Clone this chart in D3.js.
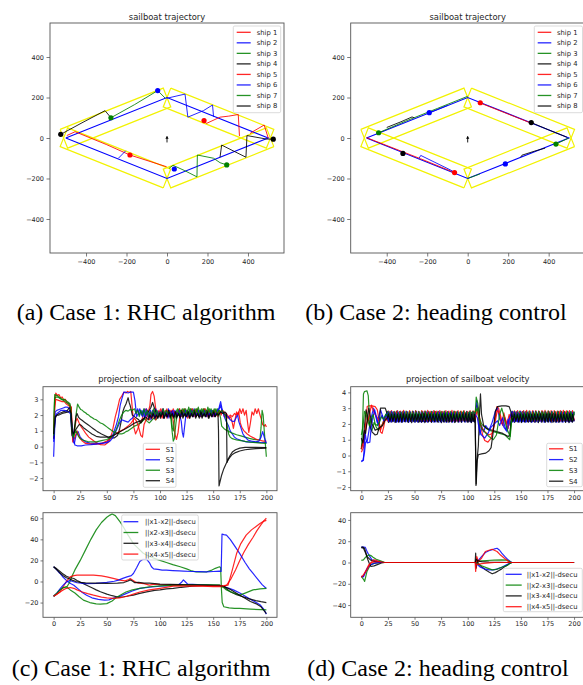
<!DOCTYPE html>
<html>
<head>
<meta charset="utf-8">
<script src="https://cdn.jsdelivr.net/npm/d3@7"></script>
<style>
  body { margin: 0; background: #fff; }
  svg { display: block; }
</style>
</head>
<body>
<div id="chart"></div>
<script>
// ---------- trajectory data (panels a, b) ----------
const routeX = [-500, 0, 500, 0, -500];
const routeY = [0, 200, 0, -200, 0];
const corridorHalf = 50;
const corridorOverrun = [10, 0, 10, 0];
const windFrom = [0, -22];
const windTo = [0, 8];

const shipNames = ["ship 1", "ship 2", "ship 3", "ship 4", "ship 5", "ship 6", "ship 7", "ship 8"];
const shipColors = ["#ff0000", "#0000ff", "#008000", "#000000", "#ff0000", "#0000ff", "#008000", "#000000"];

// case 1 (RHC): trails per ship, each a list of segments, and last positions
const trailsA = [
  [[[183, 86], [195, 72], [262, 103], [305, 108], [352, 116], [358, 10]], [[410, 22], [430, 35], [480, 64], [500, 0]]],
  [[[-2, 196], [89, 217], [103, 103], [180, 135], [225, 163], [230, 105]]],
  [[[-277, 100], [-160, 165], [-46, 234], [-8, 196]]],
  [[[-525, 18], [-420, 75], [-306, 135], [-281, 105]]],
  [[[-495, 12], [-454, 31], [-300, -32], [-183, -84], [-2, -142]]],
  [[[-240, -100], [-204, -63]]],
  [[[10, -150], [30, -135], [85, -160], [148, -192], [150, -84], [230, -100], [262, -122], [295, -133]]],
  [[[262, -95], [270, -35], [390, -95], [395, 12], [490, -5], [525, -6]]]
];
const dotsA = [[183, 86], [-46, 234], [-277, 100], [-525, 18], [-183, -84], [36, -153], [295, -133], [525, -6]];

// case 2 (heading control)
const trailsB = [
  [[[64, 172], [312, 74]]],
  [[[-190, 125], [-100, 161]]],
  [[[-440, 26], [-300, 86], [-150, 146], [0, 206]]],
  [[[-400, 52], [-330, 80], [-275, 104], [-265, 100]]],
  [[[-500, 2], [-234, -102], [-65, -171]]],
  [[[-240, -100], [-232, -86], [-85, -158], [-60, -172]]],
  [[[0, -200], [60, -178]], [[436, -30], [500, 0]]],
  [[[314, 76], [400, 40], [490, 4]], [[262, -95], [268, -85], [330, -65], [383, -50]]]
];
const dotsB = [[62, 174], [-190, 125], [-440, 26], [-320, -76], [-65, -171], [186, -128], [436, -30], [314, 76]];

const trajTicks = [-400, -200, 0, 200, 400];

// ---------- velocity data, case 1 (panel c, top) ----------
const velLabels = ["S1", "S2", "S3", "S4"];
const velColors = ["#ff0000", "#0000ff", "#008000", "#000000"];
const timeTicks = [0, 25, 50, 75, 100, 125, 150, 175, 200];

const cR1 = [[0,0.5],[1,2.6],[2,3.4],[3.5,3.25],[5,3.3],[6.5,3.1],[8,3.15],[9.5,2.95],[11,3.0],[12.5,2.8],[14,2.75],[15.5,2.6],[16.5,2.5],[17.5,0.7],[19,0.9],[21,1.6],[22,1.8],[24,1.5],[26,1.25],[28,1.05],[30,0.85],[33,0.6],[36,0.45],[40,0.25],[44,0.12],[48,0.1],[52,0.3],[55,0.9],[58,1.9],[60,2.4],[62,3.0],[64,3.2],[66,3.45],[68,3.4],[69.5,3.5],[71,3.45],[72.5,3.5],[74,2.4],[75.5,1.2],[77,0.8],[79,1.1],[81,1.5],[83,1.7],[85,2.2],[87,2.4],[89,2.2],[90.5,2.6],[91.5,3.3],[93,3.5],[94.5,3.2],[96,2.4],[97.5,2.0],[99,2.3],[100.5,1.9],[102,2.4],[103.5,2.0],[105,2.3],[106.5,1.8],[108,2.2],[109.5,1.9],[111,2.3],[112.5,1.6],[114,0.8],[115.5,0.45],[117,0.9],[118.5,1.8],[120,2.3],[121.5,2.0],[123,2.4],[124.5,1.9],[126,2.3],[127.5,2.0],[129,2.4],[130.5,1.9],[132,2.3],[133.5,2.1],[135,2.4],[136.5,1.9],[138,2.3],[139.5,2.0],[141,2.4],[142.5,2.0],[144,2.3],[145.5,1.9],[147,2.2],[148.5,2.0],[150,2.3],[151.5,2.0],[153,2.2],[154.5,1.9],[156,2.3],[157.5,2.0],[159,2.3],[160.5,1.9],[162,2.1],[163.5,2.0],[165,1.8],[166.5,1.9],[168,1.5],[169,1.15],[170.5,1.7],[172,2.2],[173.5,2.0],[175,2.4],[176.5,2.1],[178,2.4],[179.5,2.0],[181,2.3],[182,1.7],[183.5,0.9],[185,1.5],[186.5,2.2],[188,2.0],[189.5,2.4],[191,2.1],[192.5,2.4],[194,2.0],[195,1.8],[196.5,1.4],[198,1.3],[199,1.4],[200,1.25]];
const cB1 = [[0,-0.65],[0.8,0.8],[1.5,2.2],[3,2.3],[5,2.35],[7,2.4],[9,2.45],[11,2.5],[13,2.5],[15,2.4],[16,2.0],[17,0.9],[18.5,0.3],[19.5,0.2],[21,0.7],[23,0.95],[25,0.6],[27,0.45],[30,0.3],[34,0.22],[38,0.2],[42,0.2],[46,0.22],[50,0.3],[53,0.5],[56,0.8],[59,1.4],[61,1.9],[62.5,2.6],[64,3.0],[66,3.45],[68,3.45],[70,3.4],[72,3.45],[75,3.45],[76.5,2.9],[78,1.9],[79.5,2.1],[81,2.4],[82.5,2.0],[84,2.3],[85.5,1.8],[87,2.4],[88.5,1.9],[90,2.2],[91.5,1.7],[93,2.3],[94.5,1.9],[96,2.4],[97.5,1.8],[99,2.2],[100.5,1.9],[102,2.3],[103.5,1.8],[105,2.2],[106.5,2.0],[108,2.4],[109.5,1.9],[111,2.2],[112.5,2.0],[114,2.3],[115.5,1.9],[117,2.2],[118.5,2.0],[120,1.6],[121,0.9],[122,0.6],[123,1.2],[124.5,2.1],[126,2.3],[127.5,1.9],[129,2.3],[130.5,2.0],[132,2.4],[133.5,1.9],[135,2.2],[136.5,2.0],[138,2.3],[139.5,1.9],[141,2.2],[142.5,2.0],[144,2.3],[145.5,1.9],[147,2.2],[148.5,2.0],[150,2.3],[151.5,1.9],[153,2.2],[154.5,2.1],[156,2.6],[157,2.85],[158,2.5],[159.5,2.1],[161,1.8],[163,1.5],[164.5,1.3],[166,1.0],[168,0.8],[170,0.6],[172,0.5],[176,0.4],[181,0.3],[186,0.28],[191,0.27],[196,0.26],[200,0.25]];
const cG1 = [[0,1.0],[0.6,2.5],[1,3.3],[2.5,3.25],[4,3.2],[6,3.1],[8,3.0],[10,3.0],[12,2.9],[14,2.8],[15.5,2.7],[16.5,1.8],[17.5,0.9],[19,0.5],[20,1.2],[21,2.0],[22.5,2.7],[24,2.5],[25.5,2.35],[27,2.3],[28.5,2.2],[30,2.15],[31.5,2.05],[33,2.0],[34.5,1.9],[36,1.85],[38,1.75],[40,1.7],[42,1.6],[44,1.5],[46,1.45],[48,1.35],[50,1.25],[52,1.15],[54,1.05],[56,0.95],[58,0.9],[60,0.85],[62,0.8],[64,0.8],[66,0.85],[68,0.95],[70,1.0],[72,1.1],[74,1.2],[76,1.3],[78,1.35],[80,1.45],[82,1.5],[84,1.65],[86,1.75],[88,1.6],[90,1.5],[92,1.65],[94,1.8],[96,1.7],[98,1.9],[100,2.0],[102,2.05],[104,2.1],[106,2.2],[108,2.25],[109.5,2.2],[110.5,1.6],[111.5,0.9],[112.5,0.35],[113.5,0.5],[115,1.5],[116.5,2.2],[118,2.4],[119.5,2.1],[121,2.4],[122.5,2.0],[124,2.4],[125.5,2.1],[127,2.5],[128.5,2.1],[130,2.4],[131.5,2.0],[133,2.4],[134.5,2.1],[136,2.5],[137.5,2.1],[139,2.4],[140.5,2.0],[142,2.4],[143.5,2.1],[145,2.5],[146.5,2.1],[148,2.4],[149.5,2.0],[151,2.4],[152.5,2.1],[154,2.4],[155.5,2.2],[157,1.8],[158,1.3],[160,1.15],[162,1.05],[165,0.95],[168,0.85],[172,0.75],[176,0.68],[180,0.6],[184,0.52],[188,0.46],[192,0.42],[194,0.45],[195,1.2],[196,2.3],[197,2.0],[198,1.0],[199,0.2],[200,-0.65]];
const cK1 = [[0,0.5],[0.8,1.2],[1.5,1.8],[3,2.0],[5,2.1],[7,2.15],[9,2.2],[11,2.25],[13,2.3],[14.5,2.45],[15.5,2.5],[16.5,1.5],[17.5,0.7],[19,0.9],[20,1.4],[21,1.9],[22,2.1],[23.5,1.85],[25,1.75],[27,1.65],[29,1.55],[31,1.45],[33,1.35],[35,1.25],[37,1.15],[39,1.05],[41,0.95],[43,0.88],[45,0.8],[48,0.7],[51,0.6],[54,0.55],[57,0.55],[60,0.7],[62,1.1],[63.5,1.6],[65,2.2],[66.5,2.5],[68,2.7],[69,2.9],[70,3.1],[71,2.8],[72,2.6],[73,2.3],[74,2.0],[76,1.9],[78,1.8],[80,1.7],[82,1.5],[84,1.7],[86,1.9],[88,2.1],[90,2.3],[91.5,2.5],[93,2.8],[94.5,2.5],[96,2.2],[97.5,1.9],[99,2.1],[100.5,1.8],[102,2.2],[103.5,1.8],[105,2.1],[106.5,1.9],[108,2.3],[109.5,1.8],[111,2.2],[112.5,1.9],[114,2.2],[115.5,1.8],[117,2.1],[118.5,1.9],[120,2.3],[121.5,1.8],[123,2.1],[124.5,1.9],[126,2.2],[127.5,1.8],[129,2.1],[130.5,1.9],[132,2.3],[133.5,1.8],[135,2.1],[136.5,1.9],[138,2.2],[139.5,1.8],[141,2.1],[142.5,1.9],[144,2.3],[145.5,1.8],[147,2.1],[148.5,1.9],[150,2.2],[151.5,1.9],[153,2.1],[154.5,2.2],[155,1.0],[155.5,-2.5],[156.5,-2.2],[158,-1.8],[160,-1.4],[162,-1.1],[164,-0.85],[166,-0.65],[168,-0.5],[171,-0.38],[175,-0.28],[180,-0.2],[185,-0.16],[190,-0.13],[195,-0.11],[200,-0.1]];
const cR2 = [[0,0.8],[1,2.4],[2,3.0],[4,2.95],[6,2.9],[8,2.85],[10,2.85],[12,2.7],[14,2.6],[16.5,2.5],[18,0.3],[20,0.6],[22,1.0],[24,0.6],[27,0.35],[30,0.2],[35,0.15],[40,0.15],[45,0.2],[50,0.35],[54,0.55],[58,0.8],[62,0.95],[66,1.1],[70,1.3],[73,1.5],[76,1.8],[78,1.6],[80,1.2],[82,0.7],[83.5,0.6],[85,1.4],[87,1.7],[88.5,2.1],[90,1.7],[91.5,2.2],[93,1.8],[94.5,2.3],[96,1.7],[97.5,2.2],[99,1.9],[100.5,2.4],[102,1.8],[103.5,2.2],[105,2.0],[106.5,2.4],[108,1.9],[109.5,2.3],[111,2.0],[112.5,2.4],[114,1.9],[115.5,2.2],[117,2.0],[118.5,2.4],[120,1.9],[121.5,2.3],[123,2.0],[124.5,2.3],[126,1.8],[127.5,2.2],[129,2.0],[130.5,2.4],[132,1.9],[133.5,2.3],[135,2.0],[136.5,2.3],[138,1.9],[139.5,2.2],[141,2.0],[142.5,2.4],[144,1.9],[145.5,2.3],[147,2.0],[148.5,2.2],[150,1.9],[151.5,2.3],[153,2.0],[154.5,2.2],[156,2.1],[158,2.3],[160,2.2],[162,2.0],[164,1.8],[166,2.0],[168,1.9],[170,2.1],[172,2.0],[174,2.2],[175.5,1.5],[177,1.2],[179,1.0],[182,0.8],[185,0.65],[188,0.55],[191,0.45],[194,0.4],[197,0.35],[200,0.35]];
const cB2 = [[0,0.3],[0.8,1.2],[1.5,1.9],[3,2.1],[5,2.2],[7,2.3],[10,2.3],[12,2.25],[14,2.2],[16,2.1],[17,1.5],[18,1.0],[19,0.4],[20,0.1],[22,0.05],[26,0.05],[30,0.1],[35,0.12],[40,0.15],[45,0.2],[50,0.25],[53,0.35],[56,0.6],[58,0.9],[60,1.2],[62,1.5],[64,1.7],[66,1.65],[68,1.6],[70,1.55],[72,1.7],[74,1.8],[76,2.0],[77.5,2.2],[79,2.4],[80.5,2.0],[82,2.3],[83.5,1.9],[85,2.4],[86.5,1.9],[88,2.2],[89.5,1.8],[91,2.3],[92.5,1.9],[94,2.2],[95.5,1.8],[97,2.3],[98.5,1.9],[100,2.2],[101.5,2.0],[103,2.4],[104.5,1.9],[106,2.2],[107.5,1.8],[109,2.3],[110.5,2.0],[112,2.3],[113.5,1.9],[115,2.2],[116.5,2.0],[118,2.3],[119.5,1.9],[121,2.2],[122.5,2.0],[124,2.3],[125.5,1.9],[127,2.2],[128.5,2.0],[130,2.3],[131.5,1.9],[133,2.2],[134.5,2.0],[136,2.3],[137.5,1.9],[139,2.2],[140.5,2.0],[142,2.3],[143.5,1.9],[145,2.2],[146.5,2.0],[148,2.3],[149.5,1.9],[151,2.2],[152.5,2.0],[154,2.3],[155.5,2.4],[157,2.6],[158.5,2.2],[160,2.1],[162,2.0],[164,1.9],[166,1.7],[168,1.6],[170,1.6],[172,1.9],[173,2.0],[174,1.6],[176,1.2],[178,0.8],[180,0.6],[183,0.4],[186,0.35],[190,0.3],[193,0.35],[195,0.6],[196.5,0.95],[198,0.6],[200,0.2]];
const cG2 = [[0,0.7],[0.6,2.3],[1,3.1],[3,3.15],[5,3.1],[7,3.0],[10,2.9],[12,2.8],[14,2.7],[16,2.5],[17,1.4],[18,0.6],[19.5,0.8],[21,1.0],[23,0.7],[25,0.5],[28,0.4],[32,0.32],[36,0.3],[40,0.3],[45,0.38],[50,0.45],[53,0.55],[56,0.7],[58,0.95],[60,1.3],[62,1.7],[64,2.0],[66,2.2],[68,2.3],[70,2.25],[72,2.35],[74,2.3],[76,2.4],[77.5,2.1],[79,2.3],[80.5,1.9],[82,2.3],[83.5,2.0],[85,2.4],[86.5,2.0],[88,2.3],[89.5,1.9],[91,2.2],[92.5,2.0],[94,2.4],[95.5,2.0],[97,2.3],[98.5,1.9],[100,2.2],[101.5,2.0],[103,2.4],[104.5,2.0],[106,2.3],[107.5,2.1],[109,2.2],[110.5,2.0],[111.5,1.2],[112.5,1.0],[113.5,1.6],[115,2.2],[116.5,2.4],[118,2.0],[119.5,2.3],[121,2.0],[122.5,2.4],[124,2.0],[125.5,2.3],[127,2.0],[128.5,2.4],[130,2.0],[131.5,2.3],[133,2.0],[134.5,2.4],[136,2.0],[137.5,2.3],[139,2.0],[140.5,2.4],[142,2.0],[143.5,2.3],[145,2.1],[146.5,2.4],[148,2.0],[149.5,2.3],[151,2.1],[152.5,2.4],[154,2.0],[155.5,2.3],[157,2.2],[158.5,2.3],[160,2.1],[161.5,2.0],[163,1.4],[164.5,0.8],[166,0.6],[168,0.5],[172,0.42],[176,0.38],[180,0.33],[185,0.28],[190,0.25],[195,0.22],[200,0.2]];
const cK2 = [[0,0.8],[0.8,1.4],[1.5,1.9],[3,2.0],[5,2.0],[8,2.1],[11,2.15],[14,2.2],[15.5,2.3],[16.5,2.1],[17.5,1.0],[18.5,0.8],[20,1.0],[22,1.2],[24,1.4],[26,1.35],[28,1.2],[30,1.1],[33,0.95],[36,0.8],[40,0.65],[44,0.6],[48,0.6],[52,0.62],[56,0.7],[60,0.85],[64,1.0],[68,1.15],[72,1.3],[75,1.45],[78,1.55],[81,1.6],[84,1.75],[87,1.85],[89,1.7],[90.5,2.0],[92,1.8],[93.5,2.1],[95,1.8],[96.5,2.0],[98,1.8],[99.5,2.1],[101,1.9],[102.5,2.2],[104,1.8],[105.5,2.1],[107,1.9],[108.5,2.2],[110,1.9],[111.5,2.1],[113,1.8],[114.5,2.2],[116,1.9],[117.5,2.1],[119,1.8],[120.5,2.2],[122,1.9],[123.5,2.1],[125,1.9],[126.5,2.2],[128,1.8],[129.5,2.1],[131,1.9],[132.5,2.2],[134,1.9],[135.5,2.1],[137,1.8],[138.5,2.2],[140,1.9],[141.5,2.1],[143,1.9],[144.5,2.2],[146,1.8],[147.5,2.1],[149,1.9],[150.5,2.2],[152,1.9],[153.5,2.1],[155,2.0],[157,2.2],[159,2.1],[161,2.2],[162.5,2.1],[163,-1.0],[164,-0.8],[166,-0.55],[168,-0.35],[171,-0.2],[175,-0.1],[180,-0.05],[190,-0.05],[200,-0.06]];

// ---------- distance data, case 1 (panel c, bottom) ----------
const distLabels = ["||x1-x2||-dsecu", "||x2-x3||-dsecu", "||x3-x4||-dsecu", "||x4-x5||-dsecu"];
const distColors = ["#0000ff", "#008000", "#000000", "#ff0000"];

const cd12 = [[0,14],[3,11],[6,7.6],[9,4],[12,1],[15,-1.5],[19,-3.5],[23,-7],[27,-10.5],[31,-13],[36,-15.5],[42,-17],[48,-17.7],[52,-17.5],[57,-15.5],[62.5,-14],[68,-11.5],[74,-9],[81,-6.6],[90,-5.5],[100,-4.5],[110,-4],[117,-3.5],[120,-1],[122,1.5],[124,-0.5],[126,-2.5],[135,-3],[145,-3.5],[156,-4],[160,-5],[165,-6.5],[169,-8],[175,-11],[181,-14.5],[187,-18],[194,-22],[198,-27],[200,-31]];
const cd23 = [[0,-14],[3,-11.5],[6,-8],[9,-6],[12.5,-5],[15,-1],[17,4.4],[20,11],[25,20],[30,30],[35,40],[40,49],[45,56],[50,61],[53,63],[55,64],[58,62.5],[62.5,56.6],[66,51],[70,44],[75,36],[80,31],[84,27],[87.5,25],[92,23],[96,21.5],[100,20],[106,18],[112,16],[119,14],[125,12],[130,10],[134,9],[140,9],[144,9.2],[148,10.5],[152,12.5],[156,14],[157,13],[157.8,-8],[158.5,-20],[160,-24],[165,-25],[170,-25.5],[175,-25.6],[185,-26.2],[195,-26.8],[200,-27]];
const cd34 = [[0,14],[3,12],[6,9.5],[9,7],[12,5],[15,3.8],[19,2.8],[22,1],[25,-0.5],[28,-2],[31,-3.5],[36,-6],[40,-8],[44,-9.8],[50,-12],[55,-13.5],[61,-15],[66,-14.5],[70,-13.8],[75,-13],[80,-11.5],[87.5,-9.8],[95,-8.5],[100,-8],[106,-7],[112.5,-6.6],[120,-5.5],[130,-4.5],[144,-3.5],[156,-3.5],[160,-5],[166,-9.8],[172,-12.5],[178,-14.5],[184,-16.5],[190,-18.2],[195,-19.2],[200,-20]];
const cd45 = [[0,-14],[3,-12],[6,-10],[9,-5],[12,0],[15.6,4.4],[19,5.5],[22,6],[30,6.1],[37.5,6],[45,5.3],[50,4.4],[56,3],[62.5,1.3],[67,0.6],[70,1.5],[72,2.8],[74,1.5],[77,-0.5],[80,-1.5],[85,-2],[90,-3.5],[95,-2.5],[100,-3],[110,-3.5],[120,-4],[130,-4.2],[140,-4.5],[150,-4.8],[156,-5],[160,-5],[163,-3],[167,3],[171,11],[175,20],[179,28],[183,35],[187.5,42],[191,48],[195,54],[198,58],[200,60]];
const cd56 = [[0,-14],[3,-11],[6,-7],[9,-3.5],[12,-0.5],[15,1],[18,0],[22,-1.2],[30,-2],[40,-1.8],[50,-0.8],[57,0.2],[61,1.3],[65,3],[69,4.4],[73,5.5],[75,7.6],[78,13],[81,19],[84,21],[87.5,21],[90,18],[92,14],[94,12],[98,11.5],[102,10.8],[106,10.7],[112,10.3],[118,10],[122,9.8],[130,9.5],[137,9.3],[144,9.2],[150,9.5],[156,9.8],[157.5,9.5],[158.3,45],[160,44.5],[162.5,44],[166,40],[170,34],[175,26.5],[180,18],[184,12],[187.5,7.6],[192,2],[196,-3],[200,-6.6]];
const cd67 = [[0,-14],[3,-11],[6,-8],[9,-5.7],[12,-5],[15.6,-8],[20,-11],[24,-14.5],[28,-17.7],[34,-20],[40,-21.2],[44,-21.5],[50,-21],[55,-18.5],[58,-16],[62.5,-13],[68,-10],[74,-8],[81,-6.6],[90,-5],[100,-4.2],[112.5,-3.5],[125,-3.3],[135,-3.2],[145,-3.3],[156,-3.5],[160,-6],[162.5,-8],[168,-10.5],[175,-13],[180,-11],[187.5,-8],[194,-7],[200,-6.6]];
const cd78 = [[0,14],[3,11],[6,8],[9,5.5],[12,3.5],[15,2.5],[18,1],[21,0],[25,-0.8],[30,-1.3],[40,-1.5],[50,-1.8],[60,-1.5],[66,-1],[70,0.5],[72,1.5],[74,0.5],[76,-1],[80,-0.8],[85,-1.5],[90,-1.5],[95,-2],[100,-2.5],[110,-2.8],[120,-3],[130,-3.3],[140,-3.5],[150,-3.8],[156,-4],[160,-4.5],[165,-7],[170,-10],[175,-13],[180,-16],[185,-19],[190,-21],[195,-24],[198,-28],[200,-30.5]];
const cd81 = [[0,-14],[3,-12],[6,-10],[9,-8],[12,-6.5],[15.6,-5.7],[19,-6.5],[22,-8],[27,-10],[32,-11.5],[37.5,-13],[45,-14.8],[50,-15.5],[56,-16],[62,-15.5],[69,-14],[75,-12],[81,-10],[90,-8],[100,-6.5],[112.5,-4.4],[125,-4.3],[135,-4.2],[145,-4.3],[156,-4.4],[160,-4],[164,-3.5],[168,11],[172,26.5],[176,36],[181,44],[186,49],[190,52],[194,55],[197,57],[200,58]];

// ---------- velocity data, case 2 (panel d, top) ----------
// transients read point by point, steady oscillation blocks as sampled values
const oscSpanA = [25.5, 106.5];
const oscSpanB = [142.5, 200];

const dR1s = [[0,0.2],[2,0.5],[4,2.0],[5.5,3.1],[7,3.15],[10,3.15],[13,3.1],[15,2.9],[16.5,2.3],[18,1.5],[19.5,1.4],[21,1.8],[22.5,2.3],[24.5,2.7]];
const dR1A = [2.82,2.24,2.85,2.22,2.8,2.26,2.84,2.2,2.82,2.25,2.86,2.22,2.8,2.24,2.84,2.2,2.82,2.26,2.85,2.22,2.8,2.24,2.84,2.21,2.82,2.25,2.86,2.22,2.8,2.24,2.84,2.2,2.82,2.26,2.85,2.22,2.8,2.24,2.84,2.21,2.82,2.25,2.86,2.22,2.8,2.24,2.84,2.2,2.82,2.26,2.85,2.22,2.8,2.24,2.84,2.21,2.82,2.25];
const dR1m = [[107,2.8],[108.5,3.2],[110,3.0],[112,2.0],[114,1.3],[116,0.95],[119,0.85],[122,1.1],[125,2.0],[127.5,3.1],[129,3.0],[131,2.5],[133,1.9],[135,2.4],[137,2.0],[139,2.6],[141,2.3]];
const dR1B = [2.24,2.83,2.22,2.85,2.25,2.82,2.21,2.84,2.23,2.86,2.22,2.83,2.25,2.84,2.2,2.85,2.24,2.82,2.22,2.84,2.23,2.86,2.21,2.83,2.25,2.84,2.22,2.85,2.24,2.82,2.2,2.84,2.23,2.86,2.22,2.83,2.25,2.84,2.21,2.85,2.24];

const dB1s = [[0,-0.35],[1.5,-0.3],[3,0.2],[4,0.85],[5.5,0.9],[7,1.5],[8.5,2.2],[10,2.6],[11.5,3.0],[13,2.6],[15,2.1],[16.5,2.5],[18,2.9],[19.5,2.6],[21,2.3],[23,2.6],[24.5,2.3]];
const dB1A = [2.78,2.12,2.8,2.14,2.76,2.1,2.79,2.13,2.77,2.12,2.8,2.15,2.78,2.11,2.76,2.13,2.79,2.12,2.8,2.14,2.77,2.1,2.78,2.13,2.8,2.12,2.76,2.14,2.79,2.11,2.78,2.13,2.8,2.12,2.77,2.15,2.78,2.1,2.79,2.13,2.76,2.12,2.8,2.14,2.78,2.11,2.77,2.13,2.79,2.12,2.8,2.14,2.76,2.1,2.78,2.13];
const dB1m = [[107,2.3],[108.5,3.5],[110,2.6],[111.5,1.3],[113,1.9],[115,1.5],[117,1.9],[120,1.6],[123,2.1],[126,2.8],[128,3.0],[130,2.3],[132,2.1],[134,1.8],[136,1.6],[138,2.3],[140,1.9],[141.5,2.6]];
const dB1B = [2.12,2.79,2.14,2.77,2.11,2.8,2.13,2.78,2.12,2.76,2.15,2.79,2.1,2.8,2.13,2.77,2.12,2.78,2.14,2.8,2.11,2.76,2.13,2.79,2.12,2.8,2.15,2.77,2.1,2.78,2.13,2.8,2.12,2.76,2.14,2.79,2.11,2.8,2.13,2.77];

const dG1s = [[0,0.4],[1,1.5],[2,3.9],[3,4.05],[5.3,4.1],[6.5,3.8],[7.5,2.6],[8.5,1.7],[10,1.6],[12,2.1],[14,1.8],[16,1.6],[18,1.8],[20,2.0],[22,2.4],[24.5,2.8]];
const dG1A = [2.22,2.8,2.2,2.78,2.24,2.81,2.21,2.79,2.23,2.8,2.2,2.82,2.22,2.78,2.24,2.8,2.21,2.81,2.23,2.79,2.2,2.8,2.22,2.82,2.24,2.78,2.21,2.8,2.23,2.81,2.2,2.79,2.22,2.8,2.24,2.82,2.21,2.78,2.23,2.8,2.2,2.81,2.22,2.79,2.24,2.8,2.21,2.82,2.23,2.78,2.2,2.8,2.22,2.81,2.24];
const dG1m = [[107,2.5],[108,3.7],[109.5,3.3],[111,2.4],[113,2.0],[116,1.8],[120,1.6],[125,1.5],[130,1.4],[135,1.3],[138,1.1],[139.5,1.0],[141,2.2],[142,2.8]];
const dG1B = [2.8,2.22,2.78,2.2,2.81,2.24,2.79,2.21,2.8,2.23,2.82,2.2,2.78,2.22,2.8,2.24,2.81,2.21,2.79,2.23,2.8,2.2,2.82,2.22,2.78,2.24,2.8,2.21,2.81,2.23,2.79,2.2,2.8,2.22,2.82,2.24,2.78,2.21,2.8];

const dK1s = [[0,0.4],[1.5,0.9],[3,1.9],[4.4,2.9],[5.5,2.6],[7,2.2],[8.5,1.8],[10,1.5],[13,1.3],[15,1.35],[16.5,1.7],[18,3.0],[20,3.0],[22.5,3.0],[24.5,2.6]];
const dK1A = [2.1,2.65,2.12,2.63,2.09,2.66,2.11,2.64,2.1,2.65,2.13,2.62,2.1,2.66,2.08,2.64,2.11,2.65,2.1,2.63,2.12,2.66,2.09,2.64,2.11,2.65,2.1,2.62,2.13,2.66,2.1,2.64,2.08,2.65,2.11,2.63,2.1,2.66,2.12,2.64,2.09,2.65,2.11,2.62,2.1,2.66,2.13,2.64,2.1,2.65,2.08,2.63,2.11];
const dK1m = [[107,2.5],[107.8,-1.9],[108.5,-0.5],[110,0.6],[111,2.5],[112,3.9],[113,2.6],[115,1.9],[118,1.7],[123,1.6],[128,1.5],[133,1.4],[138,1.2],[139.5,1.3],[141,2.3]];
const dK1B = [2.65,2.1,2.63,2.12,2.66,2.09,2.64,2.11,2.65,2.1,2.62,2.13,2.66,2.1,2.64,2.08,2.65,2.11,2.63,2.1,2.66,2.12,2.64,2.09,2.65,2.11,2.62,2.1,2.66,2.13,2.64,2.1,2.65,2.08,2.63,2.11,2.66];

const dR2s = [[0,0.4],[3,1.2],[5,2.0],[7,2.4],[9.5,3.2],[11,2.9],[13,2.6],[15,2.4],[16.5,2.2],[18,1.6],[20,2.0],[22,2.4],[24.5,2.2]];
const dR2A = [2.2,2.76,2.18,2.74,2.22,2.78,2.2,2.75,2.19,2.77,2.21,2.74,2.2,2.76,2.18,2.75,2.22,2.78,2.2,2.74,2.19,2.77,2.21,2.75,2.2,2.76,2.18,2.74,2.22,2.78,2.2,2.75,2.19,2.77,2.21,2.74,2.2,2.76,2.18,2.75,2.22,2.78,2.2,2.74,2.19,2.77,2.21,2.75,2.2,2.76,2.18,2.74,2.22,2.78];
const dR2m = [[107,2.3],[109,2.9],[111,2.2],[113,1.8],[116,1.5],[120,1.3],[123,1.4],[126,2.2],[128,2.9],[130,2.6],[132,2.0],[134,2.7],[136,2.1],[138,1.7],[140,2.5],[141.5,2.7]];
const dR2B = [2.75,2.2,2.77,2.19,2.74,2.22,2.76,2.2,2.78,2.18,2.75,2.21,2.77,2.2,2.74,2.22,2.76,2.19,2.78,2.2,2.75,2.21,2.77,2.18,2.74,2.22,2.76,2.2,2.78,2.19,2.75,2.21,2.77,2.2,2.74,2.22,2.76,2.2];

const dB2s = [[0,-0.4],[2,-0.3],[3.5,1.5],[4.5,1.0],[5.5,0.8],[8,0.85],[9,1.6],[10.5,2.3],[12.5,2.9],[14,2.5],[15.7,1.9],[17.5,2.3],[19.4,2.55],[21,2.2],[23,2.5],[24.5,2.7]];
const dB2A = [2.16,2.7,2.14,2.72,2.17,2.69,2.15,2.71,2.13,2.7,2.16,2.72,2.15,2.68,2.14,2.71,2.17,2.7,2.15,2.72,2.13,2.69,2.16,2.71,2.15,2.7,2.14,2.72,2.17,2.68,2.15,2.71,2.13,2.7,2.16,2.72,2.15,2.69,2.14,2.71,2.17,2.7,2.15,2.72,2.13,2.68,2.16,2.71,2.15,2.7,2.14,2.72,2.17,2.69,2.15,2.71,2.13,2.7,2.16,2.72];
const dB2m = [[107,2.6],[109,2.4],[111,1.6],[113,1.3],[116,1.1],[119,1.4],[122,1.8],[125,2.0],[128,2.2],[130,1.9],[133,2.4],[135,1.8],[137,1.5],[139,2.3],[141.5,2.8]];
const dB2B = [2.7,2.15,2.72,2.14,2.69,2.17,2.71,2.15,2.7,2.13,2.72,2.16,2.68,2.15,2.71,2.14,2.7,2.17,2.72,2.15,2.69,2.13,2.71,2.16,2.7,2.15,2.72,2.14,2.68,2.17,2.71,2.15,2.7,2.13,2.72,2.16,2.69,2.15,2.71,2.14,2.7,2.16];

const dG2s = [[0,1.3],[1.5,1.8],[3,2.8],[4.5,2.6],[6,2.2],[7.5,1.9],[9,2.2],[11,2.6],[13,2.0],[15,1.9],[17,2.1],[19,2.45],[21,2.3],[23,2.6],[24.5,2.5]];
const dG2A = [2.72,2.26,2.7,2.28,2.74,2.25,2.71,2.27,2.73,2.26,2.7,2.28,2.72,2.24,2.74,2.27,2.71,2.26,2.73,2.28,2.7,2.25,2.72,2.27,2.74,2.26,2.71,2.28,2.73,2.24,2.7,2.27,2.72,2.26,2.74,2.28,2.71,2.25,2.73,2.27,2.7,2.26,2.72,2.28,2.74,2.24,2.71,2.27,2.73,2.26,2.7,2.28,2.72,2.25,2.74,2.27,2.71];
const dG2m = [[107,2.7],[109,3.0],[111,2.2],[113,1.7],[116,1.5],[120,1.2],[124,1.0],[127,1.3],[130,2.6],[132,3.0],[134,2.5],[136,1.9],[138,1.5],[140,1.2],[141.5,2.4]];
const dG2B = [2.26,2.72,2.28,2.7,2.25,2.74,2.27,2.71,2.26,2.73,2.28,2.7,2.24,2.72,2.27,2.74,2.26,2.71,2.28,2.73,2.25,2.7,2.27,2.72,2.26,2.74,2.28,2.71,2.24,2.73,2.27,2.7,2.26,2.72,2.28,2.74,2.25,2.71,2.27,2.73];

const dK2s = [[0,1.1],[1.5,0.8],[3,1.6],[4,1.4],[5.5,2.2],[7,3.0],[8.5,2.5],[10,2.0],[11.6,1.8],[13,1.6],[16,1.7],[18,1.8],[20,1.9],[22,2.2],[24.5,2.4]];
const dK2A = [2.62,2.14,2.6,2.16,2.63,2.13,2.61,2.15,2.62,2.14,2.64,2.16,2.6,2.13,2.62,2.15,2.61,2.14,2.63,2.16,2.6,2.13,2.62,2.15,2.64,2.14,2.61,2.16,2.62,2.13,2.6,2.15,2.63,2.14,2.61,2.16,2.62,2.13,2.64,2.15,2.6,2.14,2.62,2.16,2.61,2.13,2.63,2.15,2.6,2.14,2.62,2.16,2.64,2.13,2.61,2.15,2.62,2.14,2.6];
const dK2m = [[107,2.2],[108,-1.8],[109,-0.3],[110,0.05],[113,0.1],[117,0.15],[120,0.3],[122,0.5],[124,1.5],[126,2.8],[128,3.1],[132,3.15],[136,3.15],[139,3.1],[140.5,2.8],[141.5,2.4]];
const dK2B = [2.14,2.62,2.16,2.6,2.13,2.63,2.15,2.61,2.14,2.62,2.16,2.64,2.13,2.6,2.15,2.62,2.14,2.61,2.16,2.63,2.13,2.6,2.15,2.62,2.14,2.64,2.16,2.61,2.13,2.62,2.15,2.6,2.14,2.63,2.16,2.61,2.13,2.62,2.15,2.64,2.14,2.6,2.16];

// ---------- distance data, case 2 (panel d, bottom) ----------
const dd12 = [[0,14.4],[2,14.6],[3.8,14.2],[5.5,10],[7,7.2],[10,2.5],[13,1.5],[16,1],[19,0.3],[22,0],[107,0],[108,0.5],[110,2],[113,5.5],[116.6,9.4],[120,11],[124.5,12.5],[127.6,13.4],[130,11.5],[132,8.75],[135,5.5],[138,2.5],[140,0.9],[141.5,0],[200,0]];
const dd23 = [[0,-13],[2.2,-16],[3.1,-17.8],[5.3,-8.4],[8.5,-2.2],[12,-0.8],[18,0],[107,0],[109,0.5],[113,1.5],[118,1.9],[125,2.3],[132,2.5],[137,2.2],[140,0.6],[141.5,0],[200,0]];
const dd34 = [[0,14.4],[1.5,14.4],[3,13.4],[5.3,5.6],[8.5,2.5],[12,1],[17,0.3],[22,0],[107,0],[107.5,8.75],[108,-5.3],[109,2],[110,-1],[113,-4],[116.6,-6.9],[120,-9],[123,-10.6],[126,-9.5],[129,-7.8],[132,-6],[135,-3.75],[138,-2],[140,-0.5],[141.5,0],[200,0]];
const dd45 = [[0,-13],[2,-13],[3.8,-8.4],[7,-2.2],[10,0],[14,0.5],[18,0.2],[22,0],[107,0],[107.5,-8.4],[108.5,5.6],[110,1],[113,4],[116.6,10.3],[120,11.5],[123,12.5],[125,11.5],[127.6,10.3],[130,7.8],[134.5,4],[139,0.5],[140,0],[200,0]];
const dd56 = [[0,-13],[2,-13.5],[4,-9],[6,-5],[9,-2],[13,-0.5],[18,0],[107,0],[108,-1],[112,-4.5],[116,-6],[120,-6.9],[124,-7],[128,-6],[132,-4.5],[136,-2.5],[140,-0.5],[141.5,0],[200,0]];
const dd67 = [[0,2],[2,2.5],[4,5],[7,7.2],[9,6.5],[11,5],[14,3],[18,1.5],[22,0],[107,0],[109,-1],[113,-3.1],[118,-5],[123,-6.9],[127,-6.5],[132,-4.5],[136,-3.2],[140,-0.8],[141.5,0],[200,0]];
const dd78 = [[0,14],[2,13.5],[4,9],[6,3],[7.5,-1],[9,-3.75],[12,-3.2],[15,-2],[19,-0.5],[22,0],[107,0],[108,3],[110,1.5],[113,0.8],[120,0.3],[130,0.1],[141,0],[200,0]];
const dd81 = [[0,-14],[1.5,-12],[5.3,-6.9],[8.5,-0.6],[11.6,2.5],[14,2.0],[16,1.0],[19,0.5],[22,0],[107,0],[108,-2],[110,-1.5],[115,-0.8],[120,-0.3],[125,0],[200,0]];

// ---------- drawing ----------
const W = 583, H = 685;
const FONT = "DejaVu Sans";

const svg = d3.select("#chart").append("svg")
  .attr("width", W)
  .attr("height", H);
svg.append("rect").attr("width", W).attr("height", H).attr("fill", "#fff");

let clipCount = 0;

// one matplotlib-like axes box
function makeAxes(box, xDomain, yDomain, xTicks, yTicks, tk) {
  const x = d3.scaleLinear().domain(xDomain).range([box.x0, box.x1]);
  const y = d3.scaleLinear().domain(yDomain).range([box.y1, box.y0]);
  const id = "clip" + (clipCount++);
  svg.append("clipPath").attr("id", id)
    .append("rect")
      .attr("x", box.x0).attr("y", box.y0)
      .attr("width", box.x1 - box.x0).attr("height", box.y1 - box.y0);
  const plot = svg.append("g").attr("clip-path", "url(#" + id + ")");

  const fmt = d3.format("d");
  const xa = svg.append("g")
    .attr("transform", "translate(0," + box.y1 + ")")
    .call(d3.axisBottom(x).tickValues(xTicks).tickSize(tk.len).tickPadding(tk.pad).tickFormat(fmt));
  const ya = svg.append("g")
    .attr("transform", "translate(" + box.x0 + ",0)")
    .call(d3.axisLeft(y).tickValues(yTicks).tickSize(tk.len).tickPadding(tk.pad).tickFormat(fmt));
  [xa, ya].forEach(function(a) {
    a.select(".domain").remove();
    a.attr("font-family", FONT).attr("font-size", tk.font);
    a.selectAll("line").attr("stroke", "#444").attr("stroke-width", 0.7);
    a.selectAll("text").attr("fill", "#262626");
  });

  svg.append("rect")
    .attr("x", box.x0).attr("y", box.y0)
    .attr("width", box.x1 - box.x0).attr("height", box.y1 - box.y0)
    .attr("fill", "none")
    .attr("stroke", "#555")
    .attr("stroke-width", 0.9);

  return { x: x, y: y, plot: plot, box: box };
}

function title(txt, cx, base) {
  svg.append("text")
    .attr("x", cx).attr("y", base)
    .attr("text-anchor", "middle")
    .attr("font-family", FONT)
    .attr("font-size", 8.4)
    .attr("fill", "#262626")
    .text(txt);
}

function legend(rect, labels, colors, firstY, stepY, lineX, textX) {
  svg.append("rect")
    .attr("x", rect[0]).attr("y", rect[1])
    .attr("width", rect[2] - rect[0]).attr("height", rect[3] - rect[1])
    .attr("rx", 1.5)
    .attr("fill", "#fff").attr("fill-opacity", 0.8)
    .attr("stroke", "#cccccc").attr("stroke-width", 0.7);
  labels.forEach(function(lab, i) {
    const yy = firstY + i * stepY;
    svg.append("line")
      .attr("x1", lineX[0]).attr("x2", lineX[1])
      .attr("y1", yy).attr("y2", yy)
      .attr("stroke", colors[i]).attr("stroke-width", 1.3).attr("stroke-opacity", 0.85);
    svg.append("text")
      .attr("x", textX).attr("y", yy + 2.4)
      .attr("font-family", FONT).attr("font-size", 6.8)
      .attr("fill", "#262626")
      .text(lab);
  });
}

function caption(txt, cx, base) {
  svg.append("text")
    .attr("x", cx).attr("y", base)
    .attr("text-anchor", "middle")
    .attr("font-family", "Liberation Serif")
    .attr("font-size", 24)
    .attr("fill", "#000")
    .text(txt);
}

// --- trajectory panels ---
function corridors() {
  const rects = [];
  for (let i = 0; i < routeX.length - 1; i++) {
    const ax = routeX[i], ay = routeY[i], bx = routeX[i + 1], by = routeY[i + 1];
    const len = Math.hypot(bx - ax, by - ay);
    const dx = (bx - ax) / len, dy = (by - ay) / len;
    const nx = -dy, ny = dx;
    const e0 = corridorOverrun[i], e1 = corridorOverrun[(i + 1) % corridorOverrun.length];
    const sx = ax - e0 * dx, sy = ay - e0 * dy;
    const ex = bx + e1 * dx, ey = by + e1 * dy;
    const h = corridorHalf;
    rects.push([[sx + h * nx, sy + h * ny], [ex + h * nx, ey + h * ny],
                [ex - h * nx, ey - h * ny], [sx - h * nx, sy - h * ny], [sx + h * nx, sy + h * ny]]);
  }
  return rects;
}

function trajectoryPanel(box, trails, dots, legRect, legY0, legLine, legText, titleX) {
  const ax = makeAxes(box, [-578, 578], [-568, 568], trajTicks, trajTicks, { len: 3.5, pad: 2.5, font: 6.5 });
  const line = d3.line().x(d => ax.x(d[0])).y(d => ax.y(d[1]));
  const route = routeX.map((v, i) => [v, routeY[i]]);

  ax.plot.selectAll("path.corr")
    .data(corridors())
    .join("path")
      .attr("class", "corr")
      .attr("d", line)
      .attr("fill", "none")
      .attr("stroke", "#f2f200")
      .attr("stroke-width", 1.2);

  ax.plot.append("path")
    .attr("d", line(route))
    .attr("fill", "none")
    .attr("stroke", "#0000ff")
    .attr("stroke-width", 1.1);

  trails.forEach(function(segs, i) {
    segs.forEach(function(seg) {
      ax.plot.append("path")
        .attr("d", line(seg))
        .attr("fill", "none")
        .attr("stroke", shipColors[i])
        .attr("stroke-width", 1.0)
        .attr("stroke-opacity", 0.85);
    });
  });

  ax.plot.selectAll("circle.dot")
    .data(dots)
    .join("circle")
      .attr("class", "dot")
      .attr("cx", d => ax.x(d[0]))
      .attr("cy", d => ax.y(d[1]))
      .attr("r", 2.6)
      .attr("fill", (d, i) => shipColors[i]);

  // wind arrow
  const wx = ax.x(windFrom[0]), wy0 = ax.y(windFrom[1]), wy1 = ax.y(windTo[1]);
  ax.plot.append("line")
    .attr("x1", wx).attr("x2", wx).attr("y1", wy0).attr("y2", wy1)
    .attr("stroke", "#000").attr("stroke-width", 0.9);
  ax.plot.append("path")
    .attr("d", "M" + (wx - 1.6) + "," + (wy1 + 2.4) + "L" + wx + "," + (wy1 - 0.4) + "L" + (wx + 1.6) + "," + (wy1 + 2.4) + "Z")
    .attr("fill", "#000");

  title("sailboat trajectory", titleX, 19.5);
  legend(legRect, shipNames, shipColors, legY0, 10.53, legLine, legText);
}

trajectoryPanel({ x0: 50, x1: 284, y0: 23, y1: 253 }, trailsA, dotsA,
  [233.3, 26, 280.7, 112.7], 32.3, [236.7, 250.7], 256.7, 167);
trajectoryPanel({ x0: 350.7, x1: 584.7, y0: 23, y1: 253 }, trailsB, dotsB,
  [534.3, 26, 582.5, 112.7], 32.3, [537.7, 551.3], 557, 467.7);

// --- time series panels ---
function spread(vals, span) {
  const n = vals.length;
  return vals.map((v, i) => [span[0] + i * (span[1] - span[0]) / (n - 1), v]);
}
function assemble(start, a, mid, b) {
  return start.concat(spread(a, oscSpanA), mid, spread(b, oscSpanB));
}

function seriesPanel(box, yDomain, yTicks, series, colors) {
  const ax = makeAxes(box, [-10, 210], yDomain, timeTicks, yTicks, { len: 2.5, pad: 2, font: 6.5 });
  const line = d3.line().x(d => ax.x(d[0])).y(d => ax.y(d[1]));
  ax.plot.selectAll("path.s")
    .data(series)
    .join("path")
      .attr("class", "s")
      .attr("d", line)
      .attr("fill", "none")
      .attr("stroke", (d, i) => colors[i % colors.length])
      .attr("stroke-width", 1.2)
      .attr("stroke-opacity", 0.85)
      .attr("stroke-linejoin", "round");
  return ax;
}

const boxCT = { x0: 43, x1: 277, y0: 386.7, y1: 490.7 };
const boxCB = { x0: 43, x1: 277, y0: 512.7, y1: 617.3 };
const boxDT = { x0: 350.7, x1: 584.7, y0: 386.7, y1: 490.7 };
const boxDB = { x0: 350.7, x1: 584.7, y0: 512.7, y1: 617.3 };

seriesPanel(boxCT, [-2.8, 3.8], [-2, -1, 0, 1, 2, 3],
  [cR1, cB1, cG1, cK1, cR2, cB2, cG2, cK2], velColors);
title("projection of sailboat velocity", 160, 382);
legend([143.3, 443.3, 176, 487.3], velLabels, velColors, 449.3, 10.47, [145.7, 160], 165.7);

seriesPanel(boxCB, [-34, 65.3], [-20, 0, 20, 40, 60],
  [cd12, cd23, cd34, cd45, cd56, cd67, cd78, cd81], distColors);
legend([121.7, 515, 198.3, 560], distLabels, distColors, 521.7, 10.8, [123.5, 138.3], 145);

seriesPanel(boxDT, [-2.23, 4.36], [-2, -1, 0, 1, 2, 3, 4],
  [assemble(dR1s, dR1A, dR1m, dR1B), assemble(dB1s, dB1A, dB1m, dB1B),
   assemble(dG1s, dG1A, dG1m, dG1B), assemble(dK1s, dK1A, dK1m, dK1B),
   assemble(dR2s, dR2A, dR2m, dR2B), assemble(dB2s, dB2A, dB2m, dB2B),
   assemble(dG2s, dG2A, dG2m, dG2B), assemble(dK2s, dK2A, dK2m, dK2B)], velColors);
title("projection of sailboat velocity", 467.7, 382);
legend([546.7, 443.3, 582.3, 486.7], velLabels, velColors, 448.8, 10.8, [549, 563.3], 569);

seriesPanel(boxDB, [-51.5, 46.8], [-40, -20, 0, 20, 40],
  [dd12, dd23, dd34, dd45, dd56, dd67, dd78, dd81], distColors);
legend([503.3, 568.3, 582.3, 611.7], distLabels, distColors, 574.3, 10.8, [505.7, 521.7], 526.7);

// --- captions ---
caption("(a) Case 1: RHC algorithm", 146, 320);
caption("(b) Case 2: heading control", 436, 320);
caption("(c) Case 1: RHC algorithm", 141, 676);
caption("(d) Case 2: heading control", 438, 676);
</script>
</body>
</html>
